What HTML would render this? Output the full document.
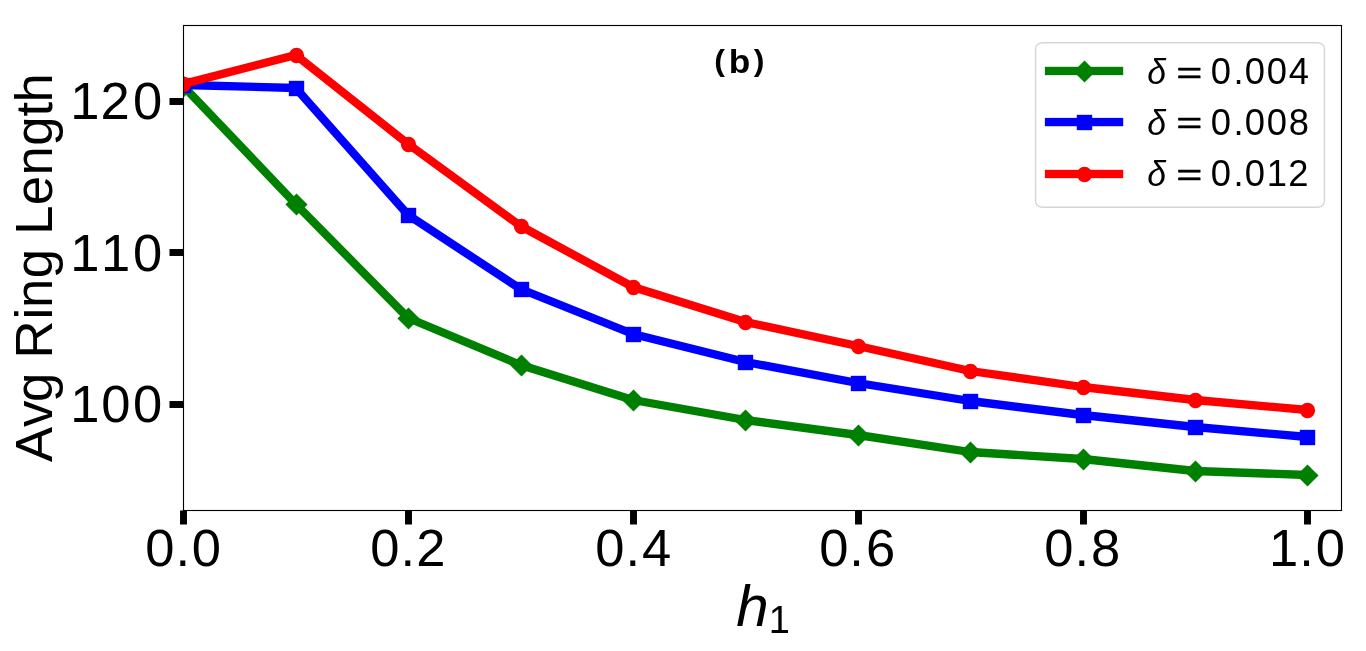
<!DOCTYPE html>
<html lang="en">
<head>
<meta charset="utf-8">
<title>Avg Ring Length vs h1 (b)</title>
<style>
html,body{margin:0;padding:0;background:#ffffff;}
body{width:1366px;height:651px;overflow:hidden;}
svg{display:block;will-change:transform;}
text{font-family:"Liberation Sans",sans-serif;fill:#000000;}
.txt{filter:grayscale(1);}
.it{font-style:italic;}
.bd{font-weight:bold;}
</style>
</head>
<body>
<svg width="1366" height="651" viewBox="0 0 1366 651">
<rect x="0" y="0" width="1366" height="651" fill="#ffffff"/>
<defs><clipPath id="axclip"><rect x="183" y="25" width="1158.5" height="485.5"/></clipPath></defs>
<g clip-path="url(#axclip)" fill="none" stroke-linejoin="round" stroke-linecap="butt">
<polyline points="183.3,86 295.71,204 408.12,318 520.53,365 632.94,400 745.35,420 857.76,435 970.17,452 1082.58,459 1194.99,471 1307.4,475" stroke="#008000" stroke-width="8.33"/>
<g fill="#008000" stroke="none"><polygon points="183.5,75.45 194.55,86.5 183.5,97.55 172.45,86.5"/><polygon points="296.5,193.45 307.55,204.5 296.5,215.55 285.45,204.5"/><polygon points="408.5,307.45 419.55,318.5 408.5,329.55 397.45,318.5"/><polygon points="521.5,354.45 532.55,365.5 521.5,376.55 510.45,365.5"/><polygon points="633.5,389.45 644.55,400.5 633.5,411.55 622.45,400.5"/><polygon points="745.5,409.45 756.55,420.5 745.5,431.55 734.45,420.5"/><polygon points="858.5,424.45 869.55,435.5 858.5,446.55 847.45,435.5"/><polygon points="970.5,441.45 981.55,452.5 970.5,463.55 959.45,452.5"/><polygon points="1083.5,448.45 1094.55,459.5 1083.5,470.55 1072.45,459.5"/><polygon points="1195.5,460.45 1206.55,471.5 1195.5,482.55 1184.45,471.5"/><polygon points="1307.5,464.45 1318.55,475.5 1307.5,486.55 1296.45,475.5"/></g>
<polyline points="183.3,85 295.71,88 408.12,215 520.53,289 632.94,334 745.35,362 857.76,383 970.17,401 1082.58,415 1194.99,427 1307.4,437" stroke="#0000ff" stroke-width="8.33"/>
<g fill="#0000ff" stroke="none"><rect x="175.812" y="77.812" width="15.375" height="15.375"/><rect x="288.812" y="80.812" width="15.375" height="15.375"/><rect x="400.812" y="207.812" width="15.375" height="15.375"/><rect x="513.812" y="281.812" width="15.375" height="15.375"/><rect x="625.812" y="326.812" width="15.375" height="15.375"/><rect x="737.812" y="354.812" width="15.375" height="15.375"/><rect x="850.812" y="375.812" width="15.375" height="15.375"/><rect x="962.812" y="393.812" width="15.375" height="15.375"/><rect x="1075.812" y="407.812" width="15.375" height="15.375"/><rect x="1187.812" y="419.812" width="15.375" height="15.375"/><rect x="1299.812" y="429.812" width="15.375" height="15.375"/></g>
<polyline points="183.3,84 295.71,55 408.12,144 520.53,226 632.94,287 745.35,322 857.76,346 970.17,371 1082.58,387 1194.99,400 1307.4,410" stroke="#ff0000" stroke-width="8.33"/>
<g fill="#ff0000" stroke="none"><circle cx="183.5" cy="84.5" r="7.63"/><circle cx="296.5" cy="55.5" r="7.63"/><circle cx="408.5" cy="144.5" r="7.63"/><circle cx="521.5" cy="226.5" r="7.63"/><circle cx="633.5" cy="287.5" r="7.63"/><circle cx="745.5" cy="322.5" r="7.63"/><circle cx="858.5" cy="346.5" r="7.63"/><circle cx="970.5" cy="371.5" r="7.63"/><circle cx="1083.5" cy="387.5" r="7.63"/><circle cx="1195.5" cy="400.5" r="7.63"/><circle cx="1307.5" cy="410.5" r="7.63"/></g>
</g>
<g fill="#000000">
<rect x="180.03" y="510.5" width="6.94" height="14"/>
<rect x="405.03" y="510.5" width="6.94" height="14"/>
<rect x="630.03" y="510.5" width="6.94" height="14"/>
<rect x="855.03" y="510.5" width="6.94" height="14"/>
<rect x="1080.03" y="510.5" width="6.94" height="14"/>
<rect x="1304.03" y="510.5" width="6.94" height="14"/>
<rect x="169.5" y="98.03" width="14" height="6.94"/>
<rect x="169.5" y="249.03" width="14" height="6.94"/>
<rect x="169.5" y="401.03" width="14" height="6.94"/>
</g>
<rect x="183.5" y="25.5" width="1158.0" height="485.0" fill="none" stroke="#000000" stroke-width="1.11"/>
<rect x="1035.5" y="42.7" width="289" height="164.5" rx="6.5" ry="6.5" fill="#ffffff" fill-opacity="0.8" stroke="#d6d6d6" stroke-width="1.39"/>
<g fill="#008000"><rect x="1044.9" y="66.81" width="78.3" height="8.33"/><polygon points="1084.5,60.45 1095.55,71.5 1084.5,82.55 1073.45,71.5"/></g>
<g fill="#0000ff"><rect x="1044.9" y="117.885" width="78.3" height="8.33"/><rect x="1076.812" y="114.812" width="15.375" height="15.375"/></g>
<g fill="#ff0000"><rect x="1044.9" y="169.835" width="78.3" height="8.33"/><circle cx="1084.5" cy="174.5" r="7.63"/></g>
<g class="txt">
<g font-size="51.25">
<text transform="translate(0,565.5) scale(1.025,1)" x="141.66 171.116 187.152">0.0</text>
<text transform="translate(0,565.5) scale(1.025,1)" x="361.172 390.628 406.05">0.2</text>
<text transform="translate(0,565.5) scale(1.025,1)" x="580.684 610.13 626.253">0.4</text>
<text transform="translate(0,565.5) scale(1.025,1)" x="799.221 828.667 844.832">0.6</text>
<text transform="translate(0,565.5) scale(1.025,1)" x="1018.733 1048.179 1064.284">0.8</text>
<text transform="translate(0,565.5) scale(1.025,1)" x="1238.016 1267.691 1283.738">1.0</text>
<text transform="translate(0,119.3) scale(1.025,1)" x="68.445 98.079 129.66">120</text>
<text transform="translate(0,270.8) scale(1.025,1)" x="68.445 98.445 129.66">110</text>
<text transform="translate(0,422.4) scale(1.025,1)" x="68.445 98.684 129.66">100</text>
</g>
<text font-size="52.7" transform="translate(52.2,461.7) rotate(-90) scale(1,1)" x="-0.3 34.8 59.8 87.8 103.2 142.1 153.8 183.4 211.4 227 256.5 286.2 316 345.1 359.1">Avg Ring Length</text>
<text class="it" font-size="57.5" transform="translate(736.25,625.6) scale(1.015,1.007)">h</text>
<text font-size="39.2" transform="translate(768.8,633) scale(0.97,1)">1</text>
<text class="bd" transform="translate(0,72.5) scale(1.06,1)"><tspan font-size="30.3" x="673.838" y="-1.5">(</tspan><tspan font-size="33.3" x="687.565" y="0">b</tspan><tspan font-size="30.3" x="711.072" y="-1.5">)</tspan></text>
<g>
<text class="it" font-size="36" transform="translate(1147.15,84.4) scale(0.938,1)">δ</text>
<text font-size="30.4" stroke="#000000" stroke-width="0.6" stroke-linejoin="round" transform="translate(1176.44,83.16) scale(1.45,1)">=</text>
<text font-size="37.5" transform="translate(0,84.4) scale(0.97,1)" x="1248.231 1271.564 1283.283 1305.963 1328.671">0.004</text>
<text class="it" font-size="36" transform="translate(1147.15,134.7) scale(0.938,1)">δ</text>
<text font-size="30.4" stroke="#000000" stroke-width="0.6" stroke-linejoin="round" transform="translate(1176.44,133.46) scale(1.45,1)">=</text>
<text font-size="37.5" transform="translate(0,134.7) scale(0.97,1)" x="1248.231 1271.564 1283.283 1305.963 1328.716">0.008</text>
<text class="it" font-size="36" transform="translate(1147.15,186) scale(0.938,1)">δ</text>
<text font-size="30.4" stroke="#000000" stroke-width="0.6" stroke-linejoin="round" transform="translate(1176.44,184.76) scale(1.45,1)">=</text>
<text font-size="37.5" transform="translate(0,186) scale(0.97,1)" x="1248.231 1271.564 1283.283 1305.907 1328.2">0.012</text>
</g>
</g>
</svg>
</body>
</html>
